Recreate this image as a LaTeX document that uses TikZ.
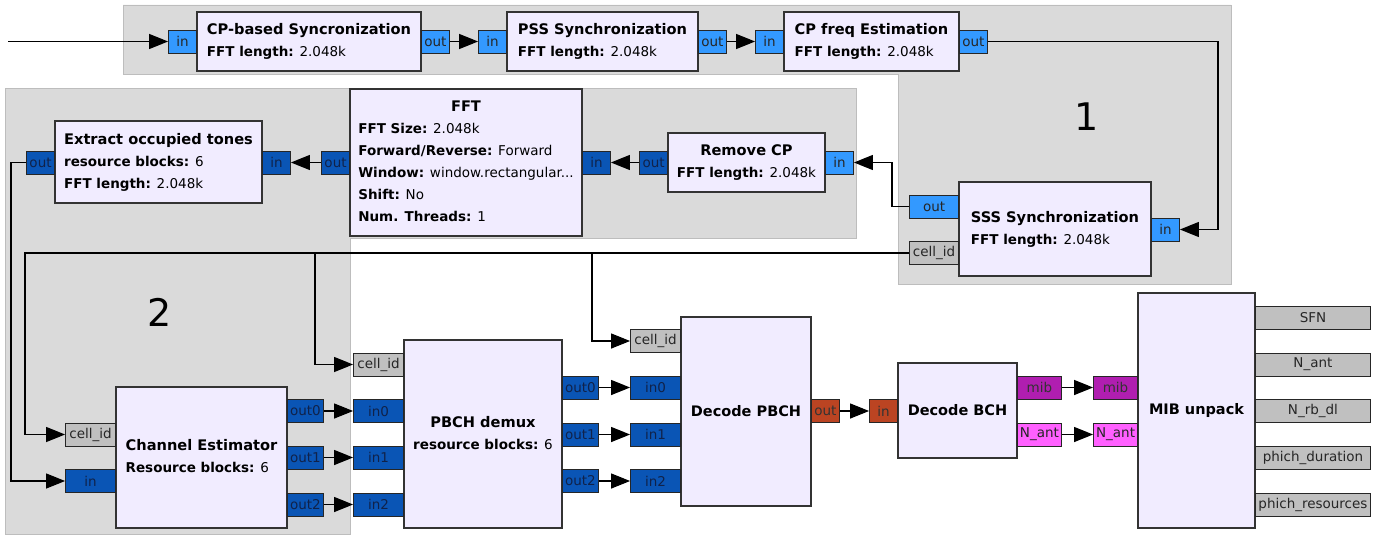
\documentclass[tikz,border=0pt]{standalone}
\usepackage{fontspec}
\setmainfont{DejaVu Sans}
\usetikzlibrary{arrows.meta}
\definecolor{blockfill}{HTML}{F1ECFF}
\definecolor{blockline}{HTML}{333333}
\definecolor{grpfill}{HTML}{DADADA}
\definecolor{grpline}{HTML}{BDBDBD}
\definecolor{cplx}{HTML}{3399FF}
\definecolor{cplxv}{HTML}{0A55B5}
\definecolor{msg}{HTML}{C0C0C0}
\definecolor{bytev}{HTML}{BB4422}
\definecolor{mibc}{HTML}{B01EB0}
\definecolor{nantc}{HTML}{FF60FF}
\definecolor{darktxt}{HTML}{10224A}
\newcommand{\btitle}[1]{\multicolumn{1}{@{}c@{}}{\fontsize{14.6}{22}\selectfont\bfseries #1}}
\newcommand{\bparam}[2]{\textbf{#1:} #2}
\tikzset{
  blockbox/.style={draw=blockline, line width=1.3pt, fill=blockfill, inner sep=0pt,
    font=\fontsize{13.5}{22}\selectfont},
  onebox/.style={blockbox, font=\fontsize{14.5}{22}\selectfont\bfseries},
  port/.style={draw=black!85, line width=0.9pt, minimum height=23pt, inner sep=0pt,
    font=\fontsize{13.5}{15}\selectfont, text=black!85},
  pcx/.style={port, fill=cplx},
  pcv/.style={port, fill=cplxv, text=darktxt},
  pmsg/.style={port, fill=msg},
  pbyte/.style={port, fill=bytev, text=black!80},
  pmib/.style={port, fill=mibc, text=black!80},
  pnant/.style={port, fill=nantc, text=black!85},
  conn/.style={line width=1.2pt, -{Triangle[length=19pt,width=15pt]}},
  grp/.style={fill=grpfill, draw=grpline, line width=0.8pt},
  grplabel/.style={font=\fontsize{38}{40}\selectfont, text=black}
}
\begin{document}
\begin{tikzpicture}[x=1pt,y=-1pt]
\useasboundingbox (0,0) rectangle (1389,535);
\fill[white] (0,0) rectangle (1389,535);
% groups
\draw[grp] (123,5) -- (1231,5) -- (1231,284) -- (898,284) -- (898,74) -- (123,74) -- cycle;
\draw[grp] (5,88) -- (856,88) -- (856,238) -- (350,238) -- (350,534) -- (5,534) -- cycle;
\node[grplabel] (g1) at (1087,117) {1};
\node[grplabel] (g2) at (160,312) {2};

% blocks
\node[blockbox, minimum width=224pt, minimum height=59pt] (cpsync) at (309,41.5)
  {\begin{tabular}{@{}l@{}}\btitle{CP-based Syncronization}\\\bparam{FFT length}{2.048k}\end{tabular}};
\node[blockbox, minimum width=191pt, minimum height=59pt] (pss) at (602.5,41.5)
  {\begin{tabular}{@{}l@{}}\btitle{PSS Synchronization}\\\bparam{FFT length}{2.048k}\end{tabular}};
\node[blockbox, minimum width=175pt, minimum height=59pt] (cpfreq) at (871.5,41.5)
  {\begin{tabular}{@{}l@{}}\btitle{CP freq Estimation}\\\bparam{FFT length}{2.048k}\end{tabular}};
\node[blockbox, minimum width=192pt, minimum height=94pt] (sss) at (1055,229)
  {\begin{tabular}{@{}l@{}}\btitle{SSS Synchronization}\\\bparam{FFT length}{2.048k}\end{tabular}};
\node[blockbox, minimum width=157pt, minimum height=59pt] (rcp) at (746.5,162.5)
  {\begin{tabular}{@{}l@{}}\btitle{Remove CP}\\\bparam{FFT length}{2.048k}\end{tabular}};
\node[blockbox, minimum width=232pt, minimum height=147pt] (fft) at (466,162.5)
  {\begin{tabular}{@{}l@{}}\btitle{FFT}\\\bparam{FFT Size}{2.048k}\\\bparam{Forward/Reverse}{Forward}\\
   \bparam{Window}{window.rectangular...}\\\bparam{Shift}{No}\\\bparam{Num. Threads}{1}\end{tabular}};
\node[blockbox, minimum width=207pt, minimum height=82pt] (extract) at (158.5,162)
  {\begin{tabular}{@{}l@{}}\btitle{Extract occupied tones}\\\bparam{resource blocks}{6}\\\bparam{FFT length}{2.048k}\end{tabular}};
\node[blockbox, minimum width=171pt, minimum height=141pt] (chest) at (201.5,457.5)
  {\begin{tabular}{@{}l@{}}\btitle{Channel Estimator}\\\bparam{Resource blocks}{6}\end{tabular}};
\node[blockbox, minimum width=158pt, minimum height=188pt] (pdemux) at (483,434)
  {\begin{tabular}{@{}l@{}}\btitle{PBCH demux}\\\bparam{resource blocks}{6}\end{tabular}};
\node[onebox, minimum width=130pt, minimum height=189pt] (dpbch) at (746,411.5)
  {Decode PBCH};
\node[onebox, minimum width=119pt, minimum height=95pt] (dbch) at (957.5,410.5)
  {Decode BCH};
\node[onebox, minimum width=117pt, minimum height=235pt] (mibu) at (1196.5,410.5)
  {MIB unpack};

% ports top row
\node[pcx, minimum width=28pt, anchor=east] (cpin) at (197,41.5) {in};
\node[pcx, minimum width=28pt, anchor=west] (cpout) at (421,41.5) {out};
\node[pcx, minimum width=28pt, anchor=east] (pssin) at (507,41.5) {in};
\node[pcx, minimum width=28pt, anchor=west] (pssout) at (698,41.5) {out};
\node[pcx, minimum width=28pt, anchor=east] (cfin) at (784,41.5) {in};
\node[pcx, minimum width=28pt, anchor=west] (cfout) at (959,41.5) {out};
% SSS
\node[pcx, minimum width=28pt, anchor=west] (sssin) at (1151,229.5) {in};
\node[pcx, minimum width=49pt, anchor=east] (sssout) at (959,206.5) {out};
\node[pmsg, minimum width=49pt, anchor=east] (sssid) at (959,253) {cell\_id};
% Remove CP, FFT, Extract
\node[pcx, minimum width=28pt, anchor=west] (rcpin) at (825,162.5) {in};
\node[pcv, minimum width=28pt, anchor=east] (rcpout) at (668,162.5) {out};
\node[pcv, minimum width=28pt, anchor=west] (fftin) at (582,162.5) {in};
\node[pcv, minimum width=28pt, anchor=east] (fftout) at (350,162.5) {out};
\node[pcv, minimum width=28pt, anchor=west] (exin) at (262,162.5) {in};
\node[pcv, minimum width=28pt, anchor=east] (exout) at (55,162.5) {out};
% Channel estimator
\node[pmsg, minimum width=50pt, anchor=east] (chid) at (116,434.5) {cell\_id};
\node[pcv, minimum width=50pt, anchor=east] (chin) at (116,481) {in};
\node[pcv, minimum width=36pt, anchor=west] (chout0) at (287,411) {out0};
\node[pcv, minimum width=36pt, anchor=west] (chout1) at (287,457.5) {out1};
\node[pcv, minimum width=36pt, anchor=west] (chout2) at (287,504.5) {out2};
% PBCH demux
\node[pmsg, minimum width=50pt, anchor=east] (pdid) at (404,364.5) {cell\_id};
\node[pcv, minimum width=50pt, anchor=east] (pdin0) at (404,411) {in0};
\node[pcv, minimum width=50pt, anchor=east] (pdin1) at (404,457.5) {in1};
\node[pcv, minimum width=50pt, anchor=east] (pdin2) at (404,504.5) {in2};
\node[pcv, minimum width=36pt, anchor=west] (pdout0) at (562,387.5) {out0};
\node[pcv, minimum width=36pt, anchor=west] (pdout1) at (562,434.5) {out1};
\node[pcv, minimum width=36pt, anchor=west] (pdout2) at (562,481) {out2};
% Decode PBCH
\node[pmsg, minimum width=50pt, anchor=east] (dpid) at (681,341) {cell\_id};
\node[pcv, minimum width=50pt, anchor=east] (dpin0) at (681,387.5) {in0};
\node[pcv, minimum width=50pt, anchor=east] (dpin1) at (681,434.5) {in1};
\node[pcv, minimum width=50pt, anchor=east] (dpin2) at (681,481) {in2};
\node[pbyte, minimum width=28pt, anchor=west] (dpout) at (811,411) {out};
% Decode BCH
\node[pbyte, minimum width=28pt, anchor=east] (dbin) at (898,411) {in};
\node[pmib, minimum width=44pt, anchor=west] (dbmib) at (1017,387.5) {mib};
\node[pnant, minimum width=44pt, anchor=west] (dbnant) at (1017,434.5) {N\_ant};
% MIB unpack
\node[pmib, minimum width=44pt, anchor=east] (mumib) at (1138,387.5) {mib};
\node[pnant, minimum width=44pt, anchor=east] (munant) at (1138,434.5) {N\_ant};
\node[pmsg, minimum width=115pt, anchor=west] (musfn) at (1255,317.5) {SFN};
\node[pmsg, minimum width=115pt, anchor=west] (muant) at (1255,364.5) {N\_ant};
\node[pmsg, minimum width=115pt, anchor=west] (murb) at (1255,411) {N\_rb\_dl};
\node[pmsg, minimum width=115pt, anchor=west] (mudur) at (1255,457.5) {phich\_duration};
\node[pmsg, minimum width=115pt, anchor=west] (mures) at (1255,504.5) {phich\_resources};

% connections
\coordinate (src) at (8,41.5);
\draw[conn] (src) -- (cpin.west);
\draw[conn] (cpout.east) -- (pssin.west);
\draw[conn] (pssout.east) -- (cfin.west);
\draw[conn] (cfout.east) -- (1218,41.5) -- (1218,229.5) -- (sssin.east);
\draw[conn] (sssout.west) -- (892,206.5) -- (892,162.5) -- (rcpin.east);
\draw[conn] (rcpout.west) -- (fftin.east);
\draw[conn] (fftout.west) -- (exin.east);
\draw[conn] (exout.west) -- (11,162.5) -- (11,481) -- (chin.west);
\draw[conn] (sssid.west) -- (25,253) -- (25,434.5) -- (chid.west);
\draw[conn] (sssid.west) -- (315,253) -- (315,364.5) -- (pdid.west);
\draw[conn] (sssid.west) -- (592,253) -- (592,341) -- (dpid.west);
\draw[conn] (chout0.east) -- (pdin0.west);
\draw[conn] (chout1.east) -- (pdin1.west);
\draw[conn] (chout2.east) -- (pdin2.west);
\draw[conn] (pdout0.east) -- (dpin0.west);
\draw[conn] (pdout1.east) -- (dpin1.west);
\draw[conn] (pdout2.east) -- (dpin2.west);
\draw[conn] (dpout.east) -- (dbin.west);
\draw[conn] (dbmib.east) -- (mumib.west);
\draw[conn] (dbnant.east) -- (munant.west);
\end{tikzpicture}
\end{document}
